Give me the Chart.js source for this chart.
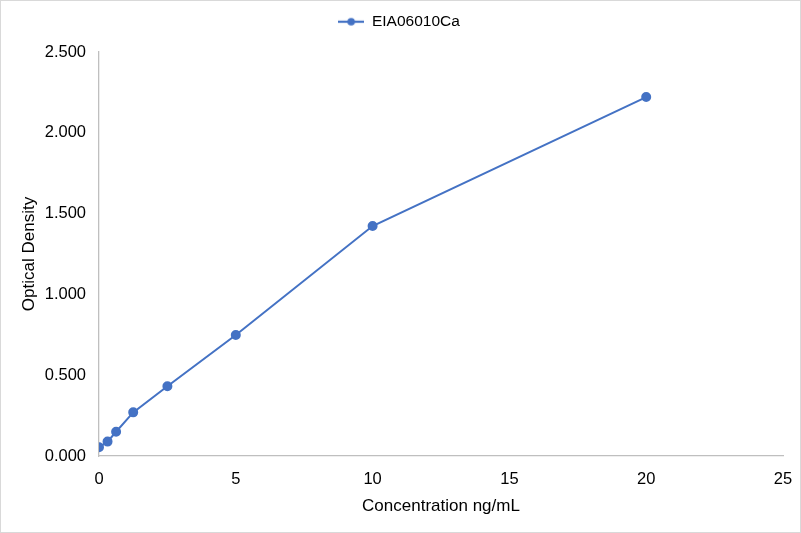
<!DOCTYPE html>
<html><head><meta charset="utf-8">
<script src="https://cdn.jsdelivr.net/npm/chart.js@4"></script>
<style>
html,body{margin:0;padding:0;background:#fff;}
#wrap{position:relative;width:801px;height:533px;box-sizing:border-box;border:1px solid #d9d9d9;}
canvas{display:block;}
</style></head>
<body><div id="wrap"><canvas id="c"></canvas></div>
<script>
const seriesName = 'EIA06010Ca';
const concentrations = [0, 0.3125, 0.625, 1.25, 2.5, 5, 10, 20];
const opticalDensity = [0.054, 0.089, 0.150, 0.270, 0.432, 0.749, 1.423, 2.221];
const xTitle = 'Concentration ng/mL';
const yTitle = 'Optical Density';
const color = '#4472C4';

const icon = document.createElement('canvas');
icon.width = 26; icon.height = 10;
{ const g = icon.getContext('2d'); g.strokeStyle = color; g.lineWidth = 2.2;
  g.beginPath(); g.moveTo(0,5); g.lineTo(26,5); g.stroke();
  g.fillStyle = color; g.beginPath(); g.arc(13,5,3.8,0,Math.PI*2); g.fill(); }

Chart.defaults.font.family = '"Liberation Sans", Arial, sans-serif';
Chart.defaults.color = '#000';

const legendHeight = {id:'legendHeight', beforeInit(chart){
  const lg = chart.legend; if(!lg) return;
  const fit = lg.fit.bind(lg);
  lg.fit = function(){ fit(); this.height = 51; };
}};

new Chart(document.getElementById('c'), {
  type:'scatter',
  data:{datasets:[{
    label: seriesName,
    data: concentrations.map((x,i)=>({x, y: opticalDensity[i]})),
    showLine:true, borderColor:color, backgroundColor:color,
    borderWidth:2, pointRadius:4, pointHoverRadius:4
  }]},
  plugins:[legendHeight],
  options:{
    responsive:true, maintainAspectRatio:false, animation:false,
    layout:{padding:{left:14,right:17,top:0,bottom:11}},
    plugins:{
      tooltip:{enabled:false},
      legend:{position:'top', labels:{usePointStyle:true, pointStyleWidth:26, font:{size:15.5}, color:'#000', padding:13,
        generateLabels:(chart)=>[{text:seriesName, pointStyle:icon, fillStyle:color, strokeStyle:color, lineWidth:0, datasetIndex:0, hidden:false}]}}
    },
    scales:{
      x:{type:'linear', min:0, max:25,
        ticks:{stepSize:5, font:{size:16.5}, color:'#000', padding:14},
        grid:{display:false, drawTicks:false},
        border:{color:'#bfbfbf', width:1.3},
        title:{display:true, text:xTitle, font:{size:17}, color:'#000', padding:{top:0,bottom:4}},
        afterFit:(s)=>{s.height = 65; s.paddingLeft = 0; s.paddingRight = 0;}},
      y:{min:0, max:2.5,
        ticks:{stepSize:0.5, font:{size:16.5}, color:'#000', padding:13, callback:v=>v.toFixed(3)},
        grid:{display:false, drawTicks:false},
        border:{color:'#bfbfbf', width:1.3},
        title:{display:true, text:yTitle, font:{size:17}, color:'#000', padding:{top:4,bottom:0}},
        afterFit:(s)=>{s.width = 84;}}
    }
  }
});
</script></body></html>
